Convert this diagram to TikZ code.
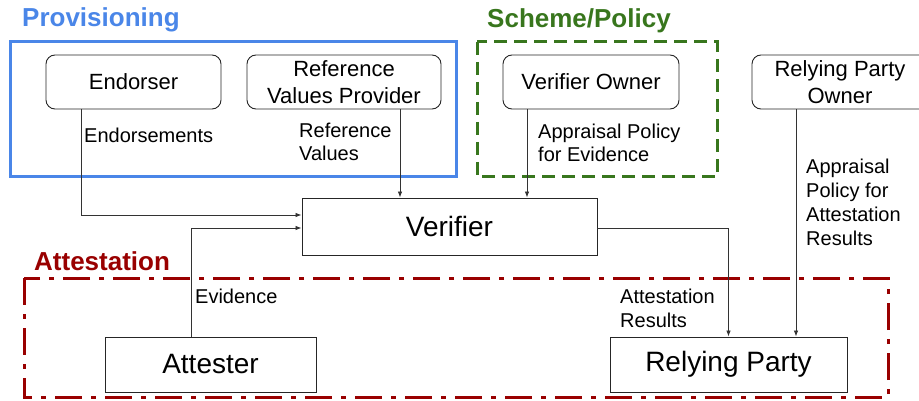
\documentclass[tikz,border=0pt]{standalone}
\usepackage{fontspec}
\setmainfont{Liberation Sans}
\usetikzlibrary{arrows.meta}

\definecolor{provblue}{HTML}{4A86E8}
\definecolor{schemegreen}{HTML}{38761D}
\definecolor{attred}{HTML}{990000}

\begin{document}
\begin{tikzpicture} [
  x=1pt, y=-1pt,
  owner/.style={
    draw=black!85, line width=0.9pt, rounded corners=9pt, minimum height=54pt,
    inner sep=2pt, align=center, font=\fontsize{22}{27}\selectfont
  },
  role/.style={draw=black!85, line width=0.9pt, font=\fontsize{28}{32}\selectfont},
  lbl/.style={anchor=base west, align=left, inner sep=0pt, font=\fontsize{20}{24}\selectfont},
  title/.style={anchor=base west, inner sep=0pt, font=\fontsize{26}{30}\selectfont\bfseries},
  flow/.style={draw=black!80, line width=0.8pt, -{Latex[length=6pt, width=4.5pt]}}
  ]
  \useasboundingbox (0,0) rectangle (919,401);

  \draw[provblue, line width=3pt] (10,42) rectangle (456,177);
  \draw[schemegreen, line width=3pt, dash pattern=on 13pt off 7pt] (477,42) rectangle (717,177);
  \draw[attred, line width=3pt, dash pattern=on 27pt off 9pt on 5pt off 9pt] (24,278) rectangle (888,397);

  \node (provtitle)[title, text=provblue] at (22,27) {Provisioning};
  \node (schemetitle)[title, text=schemegreen] at (487,28) {Scheme/Policy};
  \node (atttitle)[title, text=attred] at (34,270) {Attestation};

  \node (endorser)[owner, minimum width=175pt] at (133.5,82) {Endorser};
  \node (refval)[owner, minimum width=194pt] at (344,82) {Reference\\Values Provider};
  \node (vowner)[owner, minimum width=176pt] at (591,82) {Verifier Owner};
  \node (rpowner)[owner, minimum width=176pt] at (840,82) {Relying Party\\Owner};
  \node (verifier)[role, minimum width=295pt, minimum height=57pt] at (449.5,226.5) {Verifier};
  \node (attester)[role, minimum width=211pt, minimum height=55pt] at (210.5,364.5) {Attester};
  \node (rparty)[role, minimum width=237pt, minimum height=55pt] at (728.5,364.5) {Relying Party};

  \node (endlbl)[lbl] at (84,143) {Endorsements};
  \node (rvlbl)[lbl] at (299,161) {Reference\\Values};
  \node (aplbl)[lbl] at (538,162) {Appraisal Policy\\for Evidence};
  \node (arplbl)[lbl] at (806,245) {Appraisal\\Policy for\\Attestation\\Results};
  \node (evlbl)[lbl] at (195,303) {Evidence};
  \node (arlbl)[lbl] at (620,327) {Attestation\\Results};

  \coordinate (rv) at ([xshift=56pt]refval.south);
  \coordinate (vo) at ([xshift=-64pt]vowner.south);
  \coordinate (rpo) at ([xshift=-44pt]rpowner.south);
  \begin{scope}[flow]
    \draw ([xshift=-52.5pt]endorser.south) |- ([yshift=11.5pt]verifier.west);
    \draw ([xshift=-19.5pt]attester.north) |- ([yshift=-1.5pt]verifier.west);
    \draw (rv) -- (rv |- verifier.north);
    \draw (vo) -- (vo |- verifier.north);
    \draw ([yshift=-1.5pt]verifier.east) -| (rparty.north);
    \draw (rpo) -- (rpo |- rparty.north);
  \end{scope}
\end{tikzpicture}
\end{document}
